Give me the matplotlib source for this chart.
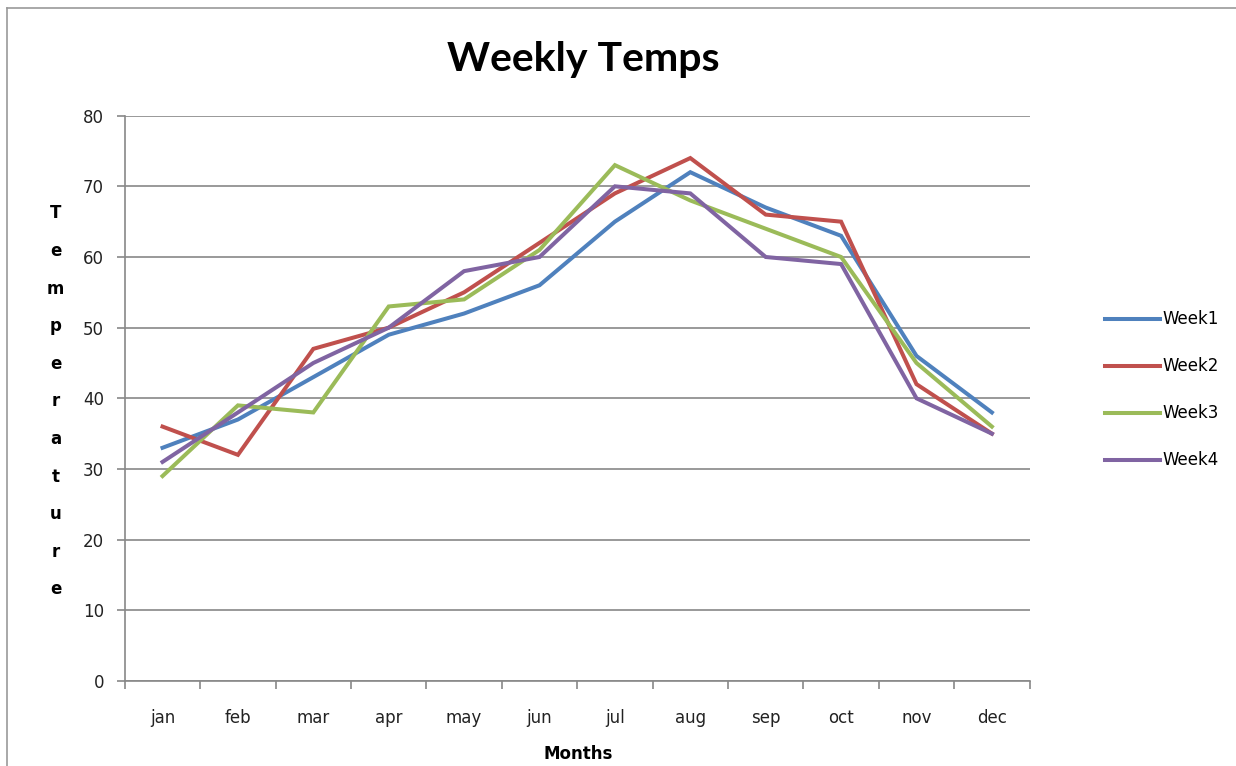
import matplotlib.pyplot as plt
from matplotlib.lines import Line2D

months = ['jan', 'feb', 'mar', 'apr', 'may', 'jun', 'jul', 'aug', 'sep', 'oct', 'nov', 'dec']
week1 = [33, 37, 43, 49, 52, 56, 65, 72, 67, 63, 46, 38]
week2 = [36, 32, 47, 50, 55, 62, 69, 74, 66, 65, 42, 35]
week3 = [29, 39, 38, 53, 54, 61, 73, 68, 64, 60, 45, 36]
week4 = [31, 38, 45, 50, 58, 60, 70, 69, 60, 59, 40, 35]
series = [('Week1', week1, '#4F81BD'), ('Week2', week2, '#C0504D'),
          ('Week3', week3, '#9BBB59'), ('Week4', week4, '#8064A2')]

fig = plt.figure(figsize=(12.36, 7.66), dpi=100)
ax = fig.add_axes([0.101, 0.111, 0.732, 0.738])

x = list(range(len(months)))
for name, vals, col in series:
    ax.plot(x, vals, color=col, lw=2.9, label=name, solid_joinstyle='miter')

ax.set_xlim(-0.5, len(months) - 0.5)
ax.set_ylim(0, 80)
ax.set_yticks(range(0, 81, 10))
ax.set_xticks([i + 0.5 for i in range(-1, len(months))])
ax.set_xticklabels([])
ax.set_xticks(x, minor=True)
ax.set_xticklabels(months, minor=True, fontsize=12, color='#222222')
ax.tick_params(axis='x', which='minor', length=0, pad=20)
ax.tick_params(axis='x', which='major', length=6, color='#888888', width=1.2)
ax.tick_params(axis='y', length=6, color='#888888', width=1.2, labelsize=12,
               labelcolor='#222222', pad=9)
ax.grid(axis='y', color='#888888', lw=1.2)
ax.set_axisbelow(True)
for s in ['top', 'right']:
    ax.spines[s].set_visible(False)
for s in ['left', 'bottom']:
    ax.spines[s].set_color('#888888')
    ax.spines[s].set_linewidth(1.2)

fig.text(0.472, 0.922, 'Weekly Temps', ha='center', va='center',
         fontsize=29.5, fontweight='bold', family='Lato')
fig.text(0.468, 0.016, 'Months', ha='center', va='center',
         fontsize=12, fontweight='bold')
fig.text(0.045, 0.476, '\n'.join('Temperature'), ha='center', va='center',
         fontsize=12, fontweight='bold', linespacing=2.40)

ax.legend(loc='center left', bbox_to_anchor=(1.067, 0.515), frameon=False,
          handlelength=3.3, handletextpad=0.15, labelspacing=1.74, fontsize=12)

# chart area border
fig.add_artist(Line2D([0.006, 0.006], [0, 0.99], color='#999999', lw=1.2))
fig.add_artist(Line2D([0.006, 1], [0.99, 0.99], color='#999999', lw=1.2))

fig.savefig('out.png', dpi=100)
